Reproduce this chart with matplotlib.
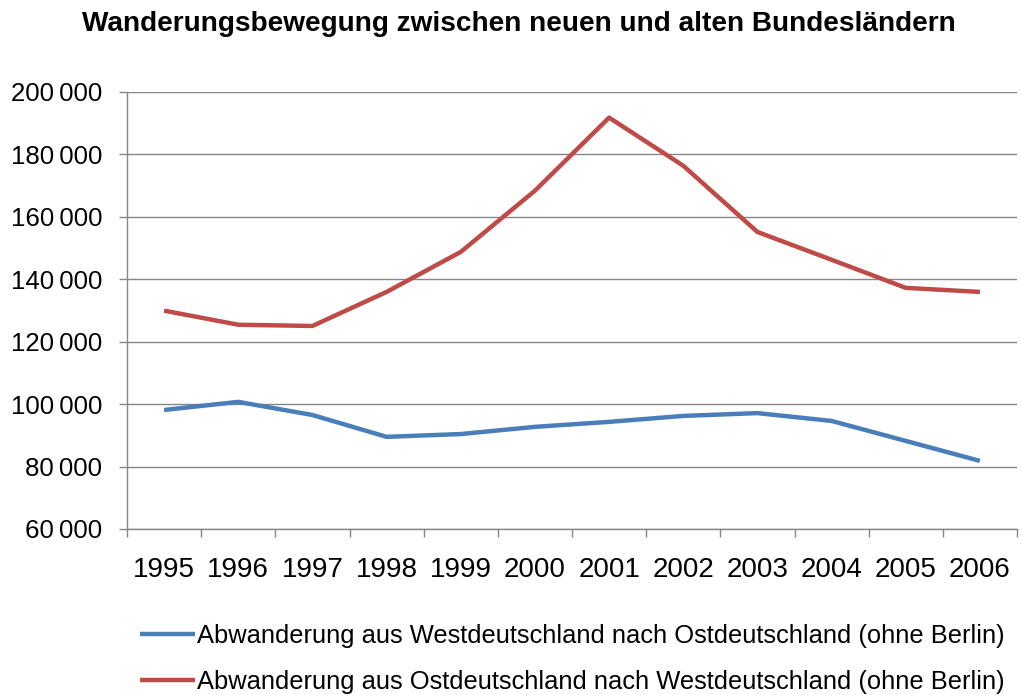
import matplotlib
matplotlib.use("Agg")
import matplotlib.pyplot as plt
from matplotlib.ticker import FuncFormatter, FixedLocator

plt.rcParams['font.family'] = ['Liberation Sans', 'DejaVu Sans']

years = ["1995", "1996", "1997", "1998", "1999", "2000", "2001", "2002", "2003", "2004", "2005", "2006"]
west_to_east = [98100, 100700, 96500, 89500, 90400, 92700, 94300, 96200, 97100, 94600, 88200, 81800]
east_to_west = [129900, 125400, 125000, 135900, 148700, 168300, 191700, 176300, 155100, 146200, 137200, 135900]
labels = ["Abwanderung aus Westdeutschland nach Ostdeutschland (ohne Berlin)",
          "Abwanderung aus Ostdeutschland nach Westdeutschland (ohne Berlin)"]
title = "Wanderungsbewegung zwischen neuen und alten Bundesländern"

blue = "#4A7EBB"
red = "#BE4B48"
grid_c = "#868686"

fig = plt.figure(figsize=(10.22, 6.95), dpi=100)
ax = fig.add_axes([127/1022, 1-529/695, (1017-127)/1022, (529-91.7)/695])

x = list(range(len(years)))
l1, = ax.plot(x, west_to_east, color=blue, lw=3.2, solid_joinstyle='round', solid_capstyle='butt')
l2, = ax.plot(x, east_to_west, color=red, lw=3.2, solid_joinstyle='round', solid_capstyle='butt')

ax.set_xlim(-0.5, len(years) - 0.5)
ax.set_ylim(60000, 200000)
ax.set_yticks(range(60000, 200001, 20000))
ax.yaxis.set_major_formatter(FuncFormatter(lambda v, p: f"{int(v):,}".replace(",", "\u2009")))
ax.grid(axis='y', color=grid_c, lw=1)
ax.set_axisbelow(True)

ax.set_xticks(x)
ax.set_xticklabels(years)
ax.xaxis.set_minor_locator(FixedLocator([i - 0.5 for i in range(len(years) + 1)]))
ax.tick_params(axis='x', which='major', length=0, pad=20, labelsize=20)
ax.tick_params(axis='x', which='minor', length=5.8, color=grid_c, width=1)
ax.tick_params(axis='y', length=5.8, color=grid_c, width=1, labelsize=18.6, pad=12)

for s in ['top', 'right']:
    ax.spines[s].set_visible(False)
for s in ['left', 'bottom']:
    ax.spines[s].set_color(grid_c)
    ax.spines[s].set_linewidth(1)

fig.text(519/1022, 1-24/695, title, ha='center', va='center', fontsize=20.2, fontweight='bold')

fig.legend([l1, l2], labels, loc='upper left', bbox_to_anchor=(140/1022, 1-624/695),
           frameon=False, fontsize=18.4, handlelength=2.14, handletextpad=0.08,
           labelspacing=0.85, borderpad=0, borderaxespad=0)

fig.savefig("out.png", dpi=100, facecolor='white')
